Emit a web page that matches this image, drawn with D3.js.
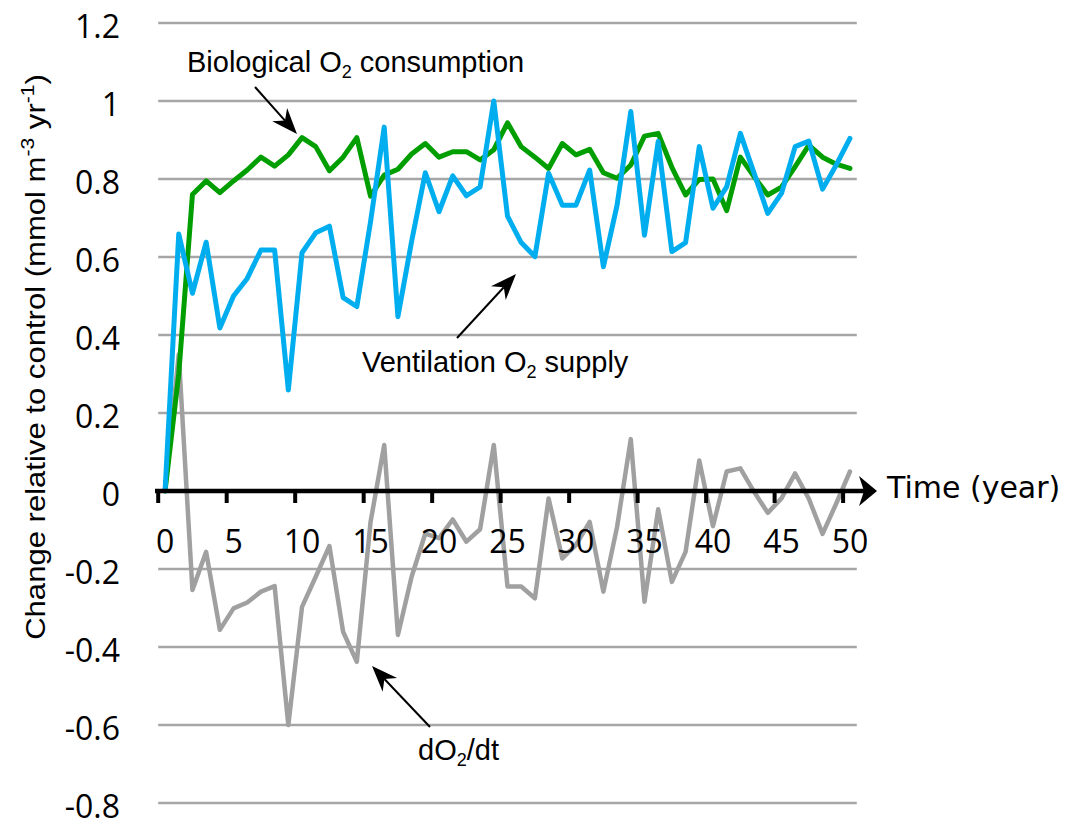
<!DOCTYPE html>
<html>
<head>
<meta charset="utf-8">
<script src="https://cdn.jsdelivr.net/npm/d3@7/dist/d3.min.js"></script>
<style>
  body { margin: 0; background: #fff; }
</style>
</head>
<body>
<div id="chart"></div>
<script>
// Data (change relative to control, mmol m-3 yr-1)
var years = [0, 1, 2, 3, 4, 5, 6, 7, 8, 9, 10, 11, 12, 13, 14, 15, 16, 17, 18, 19, 20,
  21, 22, 23, 24, 25, 26, 27, 28, 29, 30, 31, 32, 33, 34, 35, 36, 37, 38, 39, 40,
  41, 42, 43, 44, 45, 46, 47, 48, 49, 50];

var consumption = [0, 0.30, 0.76, 0.795, 0.765, 0.795, 0.823, 0.856, 0.833, 0.862, 0.906,
  0.883, 0.821, 0.856, 0.906, 0.756, 0.810, 0.825, 0.864, 0.891, 0.856,
  0.870, 0.870, 0.849, 0.875, 0.944, 0.883, 0.856, 0.827, 0.891, 0.862,
  0.876, 0.816, 0.802, 0.836, 0.910, 0.917, 0.830, 0.759, 0.799, 0.800,
  0.719, 0.856, 0.806, 0.759, 0.779, 0.832, 0.887, 0.856, 0.838, 0.827];

var supply = [0, 0.659, 0.507, 0.638, 0.418, 0.500, 0.545, 0.618, 0.618, 0.259, 0.611,
  0.662, 0.679, 0.496, 0.473, 0.69, 0.933, 0.447, 0.64, 0.816, 0.716,
  0.808, 0.757, 0.780, 1.000, 0.705, 0.637, 0.601, 0.815, 0.733, 0.733,
  0.823, 0.575, 0.733, 0.973, 0.656, 0.896, 0.614, 0.637, 0.883, 0.725,
  0.780, 0.917, 0.815, 0.712, 0.763, 0.883, 0.897, 0.774, 0.836, 0.904];

var dO2dt = [0, 0.35, -0.254, -0.156, -0.356, -0.301, -0.286, -0.258, -0.244, -0.600, -0.297,
  -0.220, -0.141, -0.361, -0.438, -0.08, 0.118, -0.369, -0.22, -0.109, -0.121,
  -0.073, -0.130, -0.098, 0.118, -0.245, -0.245, -0.275, -0.019, -0.173, -0.138,
  -0.079, -0.258, -0.092, 0.133, -0.284, -0.047, -0.233, -0.156, 0.078, -0.090,
  0.050, 0.058, -0.002, -0.056, -0.019, 0.045, -0.02, -0.110, -0.032, 0.050];

var xTicks = [0, 5, 10, 15, 20, 25, 30, 35, 40, 45, 50];
var yTicks = [1.2, 1, 0.8, 0.6, 0.4, 0.2, 0, -0.2, -0.4, -0.6, -0.8];

// Size
var width = 1072, height = 824;

var svg = d3.select("#chart").append("svg")
  .attr("width", width)
  .attr("height", height);

// Scales (category axis like the spreadsheet chart)
var x = d3.scaleBand().domain(years).range([158.2, 856.8]);
var y = d3.scaleLinear().domain([-0.8, 1.2]).range([803, 23]);
function cx(d) { return x(d) + x.bandwidth() / 2; }

// Gridlines
svg.append("g")
  .selectAll("line")
  .data(yTicks)
  .join("line")
  .attr("x1", x.range()[0])
  .attr("x2", x.range()[1])
  .attr("y1", d => y(d))
  .attr("y2", d => y(d))
  .attr("stroke", "#a6a6a6")
  .attr("stroke-width", 2.5);

// y axis labels
var yAxis = d3.axisLeft(y).tickValues(yTicks).tickSize(0).tickFormat(d => String(d));
var gy = svg.append("g").attr("transform", "translate(120,0)").call(yAxis);
gy.select(".domain").remove();
gy.selectAll("text")
  .attr("x", 0).attr("dy", null).attr("y", 14)
  .attr("fill", "#000")
  .style("font-family", "'Open Sans'")
  .style("font-size", "32px");

// Series lines
var line = d3.line()
  .x((d, i) => cx(years[i]))
  .y(d => y(d));

var series = [
  {values: dO2dt, color: "#a0a0a0", w: 4.5},
  {values: consumption, color: "#009e00", w: 5},
  {values: supply, color: "#00aeef", w: 5}
];

svg.append("g")
  .selectAll("path")
  .data(series)
  .join("path")
  .attr("d", d => line(d.values))
  .attr("fill", "none")
  .attr("stroke", d => d.color)
  .attr("stroke-width", d => d.w)
  .attr("stroke-linejoin", "round")
  .attr("stroke-linecap", "round");

// x axis at zero with arrow
var y0 = y(0);
svg.append("line")
  .attr("x1", 155).attr("x2", 864)
  .attr("y1", y0).attr("y2", y0)
  .attr("stroke", "#000").attr("stroke-width", 4.5);

svg.append("path")
  .attr("d", "M859," + (y0 - 15) + "L877," + y0 + "L859," + (y0 + 15) + "L864," + y0 + "Z")
  .attr("fill", "#000");

svg.append("g")
  .selectAll("line")
  .data(xTicks)
  .join("line")
  .attr("x1", d => x(d)).attr("x2", d => x(d))
  .attr("y1", y0).attr("y2", y0 + 12)
  .attr("stroke", "#000").attr("stroke-width", 4);

var xAxis = d3.axisBottom(x).tickValues(xTicks).tickSize(0);
var gx = svg.append("g").attr("transform", "translate(0," + y0 + ")").call(xAxis);
gx.select(".domain").remove();
gx.selectAll("text")
  .attr("y", 62).attr("dy", null)
  .attr("fill", "#000")
  .style("font-family", "'Open Sans'")
  .style("font-size", "32px");

svg.append("text")
  .attr("x", 887).attr("y", 498)
  .style("font-family", "'DejaVu Sans'")
  .style("font-size", "30px")
  .text("Time (year)");

// y axis title (stretched along its length to match the original)
var yt = svg.append("text")
  .attr("text-anchor", "middle")
  .style("font-family", "'Liberation Sans', Arial")
  .style("font-size", "28px");
yt.append("tspan").text("Change relative to control (mmol m");
yt.append("tspan").attr("dy", -11).style("font-size", "19px").text("-3");
yt.append("tspan").attr("dy", 11).text(" yr");
yt.append("tspan").attr("dy", -11).style("font-size", "19px").text("-1");
yt.append("tspan").attr("dy", 11).text(")");
var ytLen = yt.node().getBBox().width;
yt.attr("transform", "translate(45,357) rotate(-90) scale(" + (566 / ytLen) + ",1)");

// annotations
function label(xp, yp, a, b) {
  var t = svg.append("text")
    .attr("x", xp).attr("y", yp)
    .style("font-family", "'Liberation Sans', Arial")
    .style("font-size", "29px");
  t.append("tspan").text(a);
  t.append("tspan").attr("dy", 6).style("font-size", "18px").text("2");
  t.append("tspan").attr("dy", -6).text(b);
}

function arrow(x1, y1, x2, y2) {
  var ang = Math.atan2(y2 - y1, x2 - x1);
  var len = 26, half = 10, notch = 18;
  var bx = x2 - len * Math.cos(ang), by = y2 - len * Math.sin(ang);
  var nx = x2 - notch * Math.cos(ang), ny = y2 - notch * Math.sin(ang);
  var px = -Math.sin(ang) * half, py = Math.cos(ang) * half;
  svg.append("line")
    .attr("x1", x1).attr("y1", y1).attr("x2", nx).attr("y2", ny)
    .attr("stroke", "#000").attr("stroke-width", 2);
  svg.append("path")
    .attr("d", "M" + x2 + "," + y2 + "L" + (bx + px) + "," + (by + py) +
      "L" + nx + "," + ny + "L" + (bx - px) + "," + (by - py) + "Z")
    .attr("fill", "#000");
}

label(187, 72, "Biological O", " consumption");
arrow(255, 87, 297, 134);

label(362, 372, "Ventilation O", " supply");
arrow(457, 338, 516, 274);

label(418, 760, "dO", "/dt");
arrow(430, 727, 372, 666);
</script>
</body>
</html>
